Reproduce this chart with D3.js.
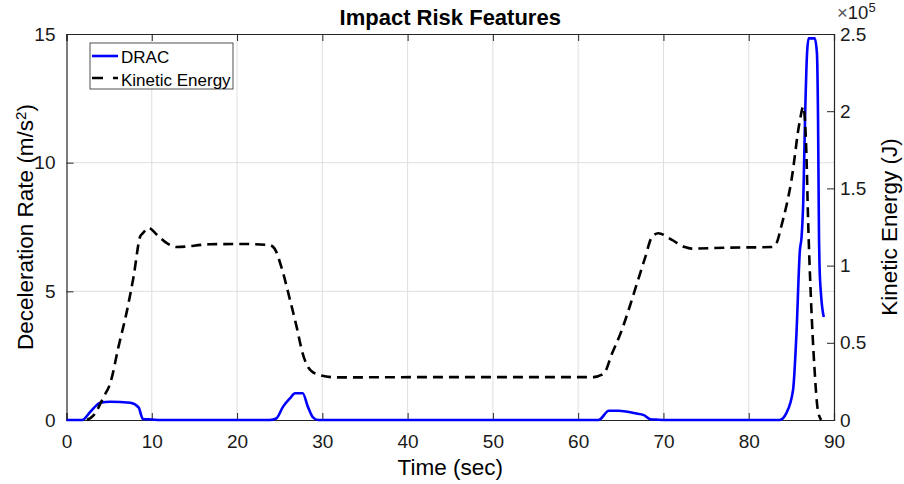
<!DOCTYPE html>
<html><head><meta charset="utf-8">
<script src="https://cdn.jsdelivr.net/npm/d3@7"></script>
<style>body{margin:0;background:#fff}text{font-family:"Liberation Sans",Arial,sans-serif}</style>
</head><body>
<svg id="c" width="904" height="484"></svg>
<script>
const title = "Impact Risk Features";
const xTicks = [0,10,20,30,40,50,60,70,80,90];
const yLeftTicks = [0,5,10,15];
const yRightTicks = [0,0.5,1,1.5,2,2.5];
// DRAC series (time sec, m/s^2)
const dracT = [0,1.83,2.8,3.97,5.14,7.48,8.45,8.96,10,11,23.84,24.6,25.4,26.2,26.8,27.7,28.3,28.9,29.5,62.4,63.6,64.75,66.7,67.7,68.45,69.4,70.5,83.6,84.4,85.2,85.6,86.0,86.2,86.4,86.6,86.84,87.03,87.74,88.0,88.13,88.24,88.3,88.5,88.8];
const dracV = [0,0,0.32,0.67,0.71,0.67,0.49,0.04,0.02,0,0,0.06,0.52,0.84,1.04,1.04,0.52,0.1,0,0,0.36,0.36,0.26,0.19,0.03,0.01,0,0,0.26,1.17,3.37,6.6,7.12,8.55,11.66,14.25,14.83,14.83,14.25,11.66,7.12,6.0,4.79,4.0];
// Kinetic energy series (time sec, J)
const keT = [2.4,3.2,4.36,5.14,6.1,7.1,7.87,8.65,8.96,9.62,10.6,11.77,12.9,16.8,20.7,23.8,24.4,25.2,26.2,27.0,27.7,28.3,29.3,31.6,45,61.8,63.0,63.97,65.1,65.9,66.9,67.9,68.6,69.4,71.0,72.5,73.3,77.2,82.7,83.25,83.8,85.0,86.0,86.4,86.76,86.96,87.3,87.7,88.1,88.5];
const keV = [0,3200,15000,24000,47500,71000,93000,119000,121000,124500,120000,114500,112000,113800,114000,113300,111000,99000,78000,60000,43000,34500,29800,27600,27800,27800,30000,43000,58000,71000,88500,106000,118000,121000,116600,112000,111000,111600,112000,114500,125000,155000,194000,203000,173000,130000,78000,34500,6500,0];

const svg = d3.select("#c");
const L=66.5,R=834,T=34,B=420;
const x = d3.scaleLinear().domain([0,90]).range([L,R]);
const yl = d3.scaleLinear().domain([0,15]).range([B,T]);
const yr = d3.scaleLinear().domain([0,2.5e5]).range([B,T]);
const axisCol="#262626";
const FF="Liberation Sans, Arial, sans-serif";

// grid
const g = svg.append("g");
xTicks.forEach(t=>{ if(t>0&&t<90) g.append("line").attr("x1",x(t)).attr("x2",x(t)).attr("y1",T).attr("y2",B).attr("stroke","#dfdfdf").attr("stroke-width",1);});
yLeftTicks.forEach(t=>{ if(t>0&&t<15) g.append("line").attr("x1",L).attr("x2",R).attr("y1",yl(t)).attr("y2",yl(t)).attr("stroke","#dfdfdf").attr("stroke-width",1);});

// axes
const fs=19;
const xb = svg.append("g").attr("transform",`translate(0,${B})`).call(d3.axisBottom(x).tickValues(xTicks).tickSize(-7).tickPadding(15));
const xt = svg.append("g").attr("transform",`translate(0,${T})`).call(d3.axisTop(x).tickValues(xTicks).tickSize(-7).tickFormat(""));
const ylA = svg.append("g").attr("transform",`translate(${L},0)`).call(d3.axisLeft(yl).tickValues(yLeftTicks).tickSize(-7).tickPadding(11));
const yrA = svg.append("g").attr("transform",`translate(${R},0)`).call(d3.axisRight(yr).tickValues(yRightTicks.map(v=>v*1e5)).tickFormat(v=>d3.format("~g")(v/1e5)).tickSize(-7).tickPadding(6));
[xb,xt,ylA,yrA].forEach(a=>{
  a.select(".domain").attr("stroke",axisCol).attr("stroke-width",1.2);
  a.selectAll(".tick line").attr("stroke",axisCol).attr("stroke-width",1);
  a.selectAll("text").attr("fill","#1a1a1a").style("font-size",fs+"px").style("font-family",FF);
});

// lines
const lineD = d3.line().x(d=>x(d[0])).y(d=>yl(d[1])).curve(d3.curveMonotoneX);
const lineK = d3.line().x(d=>x(d[0])).y(d=>yr(d[1])).curve(d3.curveMonotoneX);
svg.append("path").datum(dracT.map((t,i)=>[t,dracV[i]])).attr("d",lineD).attr("fill","none").attr("stroke","#0000ff").attr("stroke-width",2.6).attr("stroke-linejoin","round");
svg.append("path").datum(keT.map((t,i)=>[t,keV[i]])).attr("d",lineK).attr("fill","none").attr("stroke","#000").attr("stroke-width",2.6).attr("stroke-dasharray","10,6");

// title & labels
svg.append("text").attr("x",(L+R)/2).attr("y",25).attr("text-anchor","middle").style("font-size","22px").style("font-weight","bold").attr("fill","#000").text(title);
svg.append("text").attr("x",(L+R)/2).attr("y",475).attr("text-anchor","middle").style("font-size","22.5px").attr("fill","#000").text("Time (sec)");
const ylab = svg.append("text").attr("transform",`translate(33,${(T+B)/2}) rotate(-90)`).attr("text-anchor","middle").style("font-size","22.5px").attr("fill","#000");
ylab.append("tspan").text("Deceleration Rate (m/s");
ylab.append("tspan").attr("dy","-0.45em").style("font-size","15px").text("2");
ylab.append("tspan").attr("dy","0.3em").text(")");
svg.append("text").attr("transform",`translate(897,${(T+B)/2}) rotate(-90)`).attr("text-anchor","middle").style("font-size","22.5px").attr("fill","#000").text("Kinetic Energy (J)");
const ex = svg.append("text").attr("x",837).attr("y",19).style("font-size","18.5px").attr("fill","#1a1a1a");
ex.append("tspan").attr("fill","#555").text("×");
ex.append("tspan").text("10");
ex.append("tspan").attr("dy","-7").style("font-size","13px").text("5");

// legend
const lg = svg.append("g");
lg.append("rect").attr("x",90).attr("y",43).attr("width",143).attr("height",46).attr("fill","#fff").attr("stroke","#262626").attr("stroke-width",0.8);
lg.append("line").attr("x1",92).attr("x2",118).attr("y1",56).attr("y2",56).attr("stroke","#0000ff").attr("stroke-width",2.6);
lg.append("line").attr("x1",92).attr("x2",118).attr("y1",78).attr("y2",78).attr("stroke","#000").attr("stroke-width",2.6).attr("stroke-dasharray","11,10");
lg.append("text").attr("x",121).attr("y",62.5).style("font-size","17px").attr("fill","#000").text("DRAC");
lg.append("text").attr("x",121).attr("y",85.5).style("font-size","17px").attr("fill","#000").text("Kinetic Energy");
</script>
</body></html>
